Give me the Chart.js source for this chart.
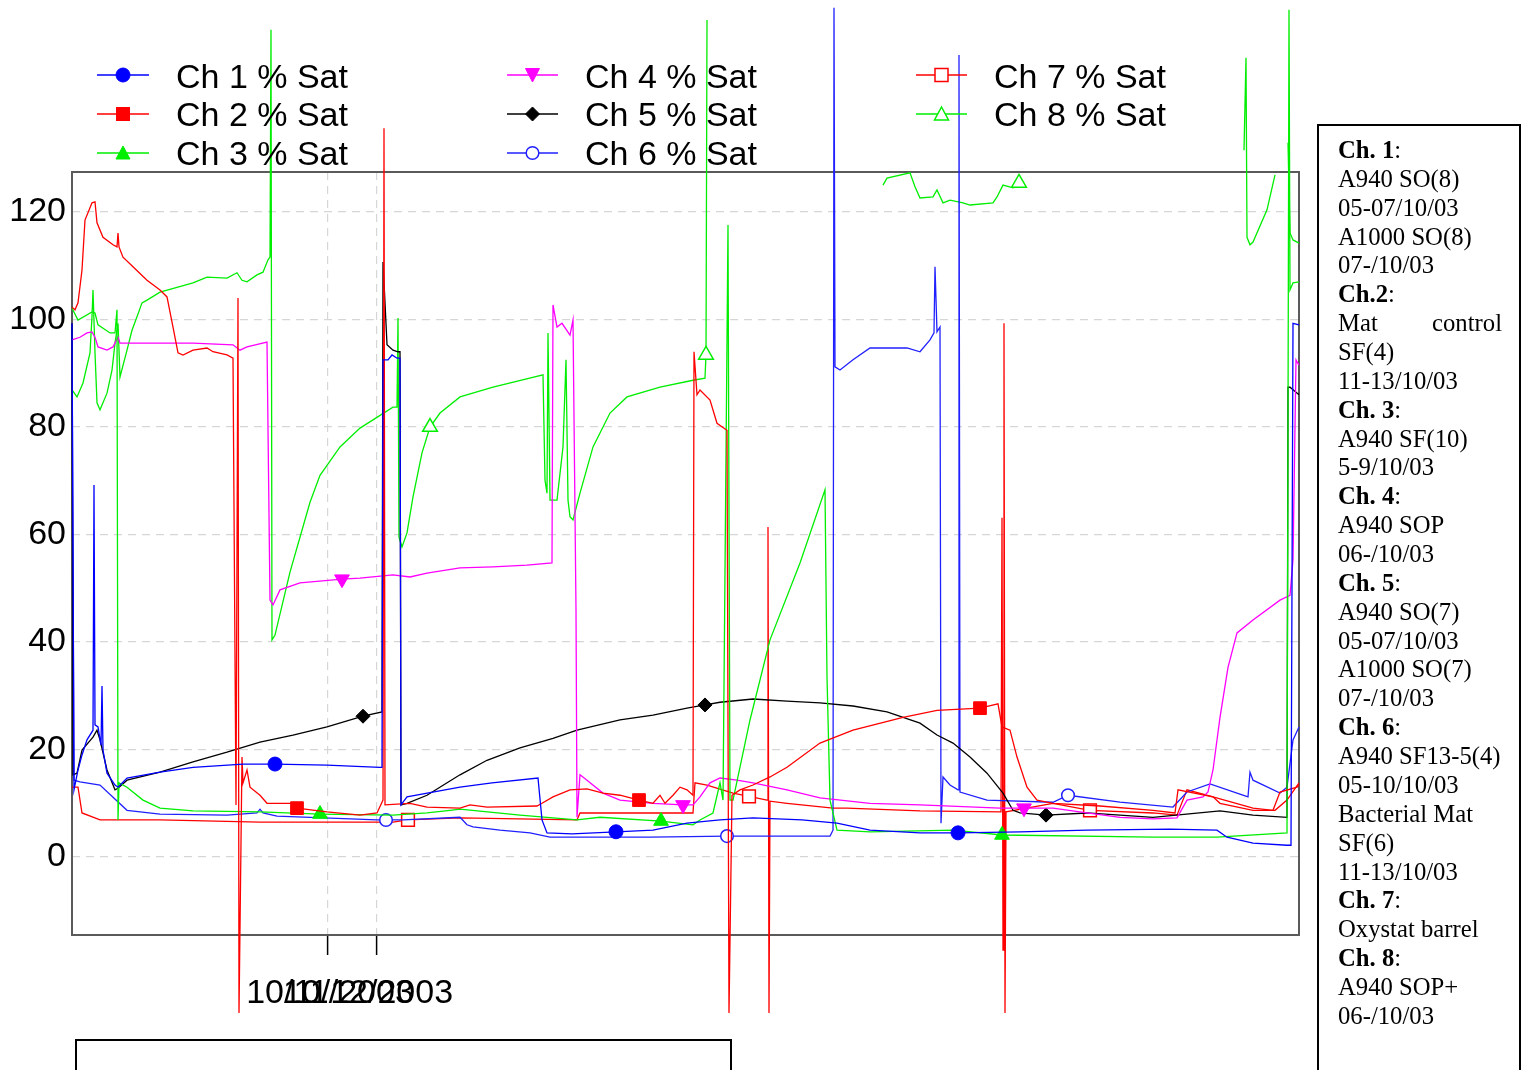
<!DOCTYPE html>
<html><head><meta charset="utf-8">
<script src="https://cdn.jsdelivr.net/npm/chart.js@4.4.0/dist/chart.umd.min.js"></script>
<style>
html,body{margin:0;padding:0;background:#fff;}
#wrap{position:relative;width:1522px;height:1070px;overflow:hidden;background:#fff;}
canvas{position:absolute;left:0;top:0;}
svg{position:absolute;left:0;top:0;}
</style></head><body>
<div id="wrap"><canvas id="c" width="1522" height="1070"></canvas>
<svg id="ov" width="1522" height="1070" xmlns="http://www.w3.org/2000/svg"></svg></div>
<script>
// ---- data: [elapsed time index, % saturation] ----
const ch1 = [[0,99.3],[2,12.5],[6,16.2],[10,19.0],[15,21.8],[21,23.6],[22,69.2],[23,24.6],[26,24.2],[29,20.8],[30,31.8],[31,19.9],[35,15.6],[43,13.4],[46,13.0],[55,14.7],[88,15.8],[121,16.7],[171,17.3],[203,17.3],[255,17.1],[308,16.7],[310,16.7],[311,92.5],[316,92.5],[320,93.4],[325,92.8],[328,92.8],[329,9.7],[335,11.2],[388,13.0],[420,13.8],[466,14.7],[470,6.9],[475,4.5],[500,4.3],[544,4.7],[581,5.0],[615,6.3],[648,6.9],[681,7.3],[730,6.9],[765,6.3],[798,5.0],[848,4.5],[886,4.5],[948,4.7],[1015,5.0],[1098,5.2],[1145,5.0],[1155,3.7],[1181,2.6],[1215,2.2],[1219,2.2],[1221,99.3],[1227,99.0]];
const ch2 = [[0,102.3],[3,101.8],[6,103.1],[10,109.2],[13,118.5],[20,121.7],[23,121.9],[25,118.0],[31,115.3],[41,113.9],[45,113.5],[46,116.1],[47,113.5],[51,111.6],[61,109.8],[75,107.3],[88,105.5],[95,104.2],[101,98.6],[106,93.8],[111,93.4],[121,94.3],[135,94.7],[141,94.0],[155,93.4],[161,92.8],[164,9.7],[166,104.0],[167,-29.0],[170,18.6],[171,13.8],[175,16.2],[178,13.0],[188,11.5],[195,10.0],[221,10.0],[225,9.1],[255,8.4],[288,7.8],[305,8.2],[311,10.6],[312,135.6],[313,9.7],[338,10.0],[355,9.3],[388,9.1],[398,9.7],[415,9.3],[465,9.5],[470,10.0],[481,11.2],[498,12.5],[515,12.7],[531,11.9],[548,11.5],[567,10.6],[581,10.0],[588,11.5],[593,10.0],[601,11.5],[608,13.0],[615,12.5],[621,11.5],[622,94.0],[625,86.0],[628,86.9],[638,85.0],[645,80.7],[655,79.4],[657,-29.0],[660,11.5],[668,12.5],[681,13.4],[698,14.9],[715,16.7],[748,21.2],[781,23.6],[831,26.0],[865,27.3],[908,27.7],[926,28.5],[930,24.2],[938,23.6],[945,18.6],[955,13.0],[965,10.6],[981,10.0],[1028,9.5],[1081,8.7],[1103,8.2],[1106,12.5],[1141,11.2],[1181,9.1],[1201,8.7],[1208,12.1],[1225,13.0],[1227,13.4]];
const ch3 = [[0,102.1],[6,99.9],[20,101.4],[23,101.2],[26,99.0],[38,97.5],[43,97.5],[45,101.8],[46,6.9],[47,13.8],[55,13.0],[71,10.6],[88,9.1],[121,8.6],[188,8.4],[248,8.0],[321,7.8],[355,8.2],[378,8.7],[388,8.9],[448,7.8],[505,6.9],[528,7.4],[589,6.7],[621,6.0],[628,6.9],[641,8.2],[648,13.8],[651,10.6],[656,117.6],[658,10.6],[661,10.6],[678,25.5],[698,40.4],[728,54.7],[753,68.3],[755,33.5],[758,10.6],[765,5.0],[798,4.7],[881,5.0],[930,4.1],[1081,3.7],[1145,3.7],[1215,4.5],[1217,157.6],[1218,105.5],[1221,106.8],[1227,107.0]];
const ch4 = [[0,96.2],[8,96.7],[15,97.5],[20,97.7],[23,96.7],[26,94.9],[35,94.3],[41,94.9],[46,96.7],[48,95.6],[71,95.6],[121,95.6],[161,95.3],[168,94.3],[175,94.9],[195,95.8],[198,47.8],[201,46.9],[208,49.7],[228,51.0],[270,51.7],[288,51.9],[321,52.5],[338,52.1],[355,52.8],[388,53.8],[421,54.0],[455,54.3],[480,54.7],[481,102.7],[485,98.6],[490,99.3],[498,97.1],[501,99.9],[504,46.0],[505,7.4],[508,15.3],[515,14.3],[531,11.9],[548,10.6],[581,10.0],[611,9.7],[621,9.7],[628,11.2],[638,13.8],[648,14.7],[665,14.3],[681,13.8],[715,12.5],[748,11.0],[798,10.0],[848,9.7],[928,9.1],[952,9.1],[981,9.1],[1015,8.2],[1048,7.4],[1081,7.1],[1105,7.3],[1115,10.6],[1131,11.2],[1136,12.1],[1141,16.2],[1148,26.0],[1156,35.3],[1165,41.7],[1181,44.1],[1208,47.8],[1218,48.7],[1221,55.3],[1224,92.5],[1227,91.5]];
const ch5 = [[0,99.3],[1,15.3],[5,15.6],[10,19.9],[21,22.3],[25,23.6],[28,21.8],[35,16.2],[43,12.5],[46,12.8],[55,14.3],[88,15.8],[121,17.7],[155,19.5],[188,21.4],[221,22.7],[255,24.2],[291,26.2],[310,27.0],[311,110.7],[313,103.1],[315,95.3],[321,94.3],[326,94.0],[328,94.0],[329,9.7],[335,10.0],[355,11.5],[388,15.3],[415,18.0],[448,20.3],[481,22.1],[505,23.6],[548,25.5],[581,26.4],[615,27.7],[633,28.3],[648,28.8],[681,29.4],[715,29.0],[748,28.7],[781,28.1],[815,27.0],[848,24.9],[865,22.7],[881,21.2],[898,18.6],[915,15.6],[931,11.9],[941,8.7],[948,8.2],[974,7.8],[1015,8.2],[1081,7.4],[1148,8.6],[1181,7.8],[1215,7.4],[1216,87.4],[1218,87.4],[1227,86.0]];
const ch6 = [[0,98.0],[2,14.3],[8,14.0],[28,13.4],[55,8.7],[88,8.0],[155,7.8],[185,8.2],[188,8.9],[191,8.2],[205,7.6],[305,6.9],[314,6.9],[331,6.9],[388,7.4],[395,6.0],[401,5.6],[428,5.0],[458,4.5],[478,3.7],[578,3.7],[655,3.9],[758,3.9],[761,5.0],[762,158.0],[763,91.2],[768,90.6],[781,92.5],[798,94.7],[835,94.7],[848,94.0],[858,96.2],[862,97.5],[863,109.8],[865,97.7],[868,98.6],[869,6.3],[871,14.9],[878,13.4],[886,12.5],[887,149.2],[888,12.1],[915,10.6],[981,10.2],[996,11.5],[1048,10.2],[1101,9.3],[1115,12.1],[1138,13.6],[1165,11.9],[1176,11.2],[1178,15.8],[1181,14.3],[1208,11.9],[1215,13.0],[1221,21.8],[1227,24.2]];
const ch7 = [[0,13.0],[6,13.0],[10,8.2],[28,6.9],[88,6.9],[188,6.5],[321,6.5],[336,6.9],[388,7.3],[505,6.9],[508,8.2],[621,8.2],[623,13.8],[635,13.4],[661,11.9],[677,11.3],[695,10.6],[696,61.4],[697,-29.0],[698,10.4],[715,10.0],[761,9.1],[775,9.1],[848,8.6],[929,8.4],[930,63.1],[931,-17.3],[932,99.3],[933,-29.0],[934,8.4],[981,10.0],[1018,8.7],[1081,8.2],[1105,7.8],[1115,12.5],[1141,11.2],[1148,10.0],[1181,8.7],[1203,8.7],[1215,10.6],[1227,13.8]];
const ch8 = [[0,86.9],[5,85.6],[11,88.2],[18,93.8],[20,100.5],[21,105.5],[23,93.8],[25,84.5],[28,83.2],[35,86.3],[40,90.6],[43,95.6],[46,99.3],[48,89.3],[55,94.3],[60,98.0],[65,100.5],[70,103.1],[75,103.6],[88,105.1],[105,106.0],[121,106.8],[135,107.9],[155,107.7],[165,108.7],[170,107.3],[175,107.0],[185,108.3],[191,108.8],[196,111.1],[198,111.6],[199,153.9],[200,40.4],[203,41.3],[218,53.0],[238,66.0],[248,71.0],[268,76.3],[288,79.8],[321,83.7],[325,83.7],[326,100.3],[327,59.5],[330,57.7],[335,60.3],[341,67.0],[350,75.2],[358,80.0],[368,82.6],[388,85.6],[421,87.4],[471,89.7],[473,70.1],[475,67.7],[476,97.5],[478,66.4],[485,66.4],[491,76.3],[494,92.5],[496,66.4],[498,63.3],[501,62.7],[508,67.7],[521,76.3],[538,82.6],[555,85.6],[588,87.4],[621,88.7],[633,89.1],[634,93.4],[635,155.7],[700,null],[811,125.0],[815,126.3],[838,127.3],[843,124.7],[848,122.6],[861,122.8],[865,124.1],[871,121.7],[878,122.2],[891,121.7],[898,121.3],[921,121.7],[925,122.8],[931,125.0],[941,124.5],[947,125.4],[950,125.4],[1100,null],[1172,131.5],[1174,148.7],[1175,115.3],[1178,113.9],[1181,114.4],[1195,120.4],[1203,126.9],[1210,null],[1216,132.9],[1218,116.1],[1221,114.8],[1227,114.2]];

// time indices where each series shows its marker symbol
const ch1Marks = [203,544,886];
const ch2Marks = [225,567,908];
const ch3Marks = [248,589,930];
const ch4Marks = [270,611,952];
const ch5Marks = [291,633,974];
const ch6Marks = [314,655,996];
const ch7Marks = [336,677,1018];
const ch8Marks = [358,634,947];

const seriesNames = ['Ch 1 % Sat','Ch 2 % Sat','Ch 3 % Sat','Ch 4 % Sat','Ch 5 % Sat','Ch 6 % Sat','Ch 7 % Sat','Ch 8 % Sat'];
const yTickValues = [0,20,40,60,80,100,120];
// time-axis ticks: two tick marks, two (overlapping) date labels
const xTickValues = [256,258,296,305];
const xTickLabels = ['','10/11/2003','10/12/2003',''];
const xTickMarked = [true,false,false,true];
const noteLines = [
  ['Ch. 1',':'],['','A940 SO(8)'],['','05-07/10/03'],['','A1000 SO(8)'],['','07-/10/03'],
  ['Ch.2',':'],['','Mat|control'],['','SF(4)'],['','11-13/10/03'],
  ['Ch. 3',':'],['','A940 SF(10)'],['','5-9/10/03'],
  ['Ch. 4',':'],['','A940 SOP'],['','06-/10/03'],
  ['Ch. 5',':'],['','A940 SO(7)'],['','05-07/10/03'],['','A1000 SO(7)'],['','07-/10/03'],
  ['Ch. 6',':'],['','A940 SF13-5(4)'],['','05-10/10/03'],['','Bacterial Mat'],['','SF(6)'],['','11-13/10/03'],
  ['Ch. 7',':'],['','Oxystat barrel'],
  ['Ch. 8',':'],['','A940 SOP+'],['','06-/10/03']
];

// ---- styles ----
const seriesData = [ch1,ch2,ch3,ch4,ch5,ch6,ch7,ch8];
const seriesMarks = [ch1Marks,ch2Marks,ch3Marks,ch4Marks,ch5Marks,ch6Marks,ch7Marks,ch8Marks];
const styles = [
  {color:'#0000ff', pt:'circle',   fill:true,  r:7,   rot:0},
  {color:'#ff0000', pt:'rect',     fill:true,  r:9,   rot:0},
  {color:'#00ee00', pt:'triangle', fill:true,  r:8.5, rot:0},
  {color:'#ff00ff', pt:'triangle', fill:true,  r:8.5, rot:180},
  {color:'#000000', pt:'rectRot',  fill:true,  r:7,   rot:0},
  {color:'#2020ff', pt:'circle',   fill:false, r:6.3, rot:0},
  {color:'#ff0000', pt:'rect',     fill:false, r:9,   rot:0},
  {color:'#00ee00', pt:'triangle', fill:false, r:8.5, rot:0}
];

Chart.defaults.font.family = "'Liberation Sans', Arial, sans-serif";

const datasets = seriesData.map((d,i) => {
  const s = styles[i], marks = seriesMarks[i];
  return {
    label: seriesNames[i],
    data: d.map(p => ({x:p[0], y:p[1]})),
    borderColor: s.color,
    backgroundColor: s.color,
    borderWidth: 1.3,
    tension: 0,
    fill: false,
    spanGaps: false,
    clip: false,
    pointStyle: s.pt,
    rotation: s.rot,
    pointRotation: s.rot,
    pointBackgroundColor: s.fill ? s.color : '#ffffff',
    pointBorderColor: s.color,
    pointBorderWidth: s.fill ? 1 : 1.5,
    pointRadius: ctx => (ctx.raw && marks.includes(ctx.raw.x)) ? s.r : 0,
    pointHoverRadius: 0
  };
});

const framePlugin = {
  id: 'frame',
  beforeDatasetsDraw(chart) {
    const a = chart.chartArea, c = chart.ctx;
    c.save();
    c.strokeStyle = '#5a5a5a';
    c.lineWidth = 2;
    c.setLineDash([]);
    c.strokeRect(a.left, a.top, a.right - a.left, a.bottom - a.top);
    c.restore();
  }
};

new Chart(document.getElementById('c'), {
  type: 'line',
  data: { datasets },
  plugins: [framePlugin],
  options: {
    responsive: false,
    animation: false,
    devicePixelRatio: 1,
    events: [],
    layout: { padding: { top: 172, right: 223, bottom: 0, left: 0 } },
    plugins: { legend: { display: false }, tooltip: { enabled: false }, title: { display: false } },
    scales: {
      x: {
        type: 'linear', min: 0, max: 1227,
        afterFit: s => { s.height = 135; },
        afterBuildTicks: s => { s.ticks = xTickValues.map(v => ({value: v})); },
        border: { display: false, dash: [8,6] },
        grid: {
          color: c => xTickMarked[c.index] ? '#d6d6d6' : 'rgba(0,0,0,0)',
          tickColor: c => xTickMarked[c.index] ? '#000000' : 'rgba(0,0,0,0)',
          tickLength: 20, tickWidth: 1.5, tickBorderDash: [], lineWidth: 1.2
        },
        ticks: {
          autoSkip: false, maxRotation: 0, minRotation: 0, padding: 18,
          color: '#000', font: { size: 34 },
          callback: (v, i) => xTickLabels[i]
        }
      },
      y: {
        type: 'linear', min: -14.5, max: 127.44,
        afterFit: s => { s.width = 72; },
        afterBuildTicks: s => { s.ticks = yTickValues.map(v => ({value: v})); },
        border: { display: false, dash: [8,6] },
        grid: { color: '#d6d6d6', drawTicks: false, lineWidth: 1.2 },
        ticks: { padding: 6, color: '#000', font: { size: 34 } }
      }
    }
  }
});

// ---- overlay: legend and notes box (real SVG text) ----
const NS = 'http://www.w3.org/2000/svg';
const ov = document.getElementById('ov');
function el(tag, attrs, parent) {
  const e = document.createElementNS(NS, tag);
  for (const k in attrs) e.setAttribute(k, attrs[k]);
  (parent || ov).appendChild(e);
  return e;
}
const legCols = [{x1:97,x2:149,cx:123,tx:176},{x1:507,x2:558,cx:532.5,tx:585},{x1:916,x2:967,cx:941.5,tx:994}];
const legRows = [{cy:75,base:87.5},{cy:114,base:126},{cy:153,base:164.5}];
seriesNames.forEach((name, i) => {
  const col = legCols[Math.floor(i/3)], row = legRows[i%3], s = styles[i];
  const cx = col.cx, cy = row.cy;
  el('line', {x1:col.x1, y1:cy, x2:col.x2, y2:cy, stroke:s.color, 'stroke-width':1.5});
  const fill = s.fill ? s.color : '#fff';
  const sw = s.fill ? 1 : 1.5;
  if (s.pt === 'circle') el('circle', {cx, cy, r: s.fill ? 7 : 6.3, fill, stroke:s.color, 'stroke-width':sw});
  else if (s.pt === 'rect') el('rect', {x:cx-6.5, y:cy-6.5, width:13, height:13, fill, stroke:s.color, 'stroke-width':sw});
  else if (s.pt === 'rectRot') el('polygon', {points:`${cx},${cy-7} ${cx+7},${cy} ${cx},${cy+7} ${cx-7},${cy}`, fill, stroke:s.color, 'stroke-width':sw});
  else if (s.pt === 'triangle' && s.rot === 180) el('polygon', {points:`${cx-7},${cy-6.5} ${cx+7},${cy-6.5} ${cx},${cy+7}`, fill, stroke:s.color, 'stroke-width':sw});
  else el('polygon', {points:`${cx},${cy-7} ${cx+7},${cy+6} ${cx-7},${cy+6}`, fill, stroke:s.color, 'stroke-width':sw});
  const t = el('text', {x:col.tx, y:row.base, 'font-family':"'Liberation Sans', Arial, sans-serif", 'font-size':34, fill:'#000'});
  t.textContent = name;
});

// notes box
el('rect', {x:1318, y:125, width:202, height:1000, fill:'none', stroke:'#000', 'stroke-width':2});
noteLines.forEach((ln, i) => {
  const y = 158 + i*28.86;
  const [b, rest] = ln;
  if (rest.includes('|')) {
    const [l, r] = rest.split('|');
    el('text', {x:1338, y, 'font-family':"'Liberation Serif', 'Times New Roman', serif", 'font-size':24.7, fill:'#000'}).textContent = l;
    el('text', {x:1502, y, 'text-anchor':'end', 'font-family':"'Liberation Serif', 'Times New Roman', serif", 'font-size':24.7, fill:'#000'}).textContent = r;
    return;
  }
  const t = el('text', {x:1338, y, 'font-family':"'Liberation Serif', 'Times New Roman', serif", 'font-size':24.7, fill:'#000'});
  if (b) {
    const bs = document.createElementNS(NS, 'tspan'); bs.setAttribute('font-weight','bold'); bs.textContent = b; t.appendChild(bs);
  }
  const ns = document.createElementNS(NS, 'tspan'); ns.textContent = rest; t.appendChild(ns);
});
// empty box at bottom left
el('rect', {x:76, y:1040, width:655, height:60, fill:'none', stroke:'#000', 'stroke-width':2});
</script>
</body></html>
